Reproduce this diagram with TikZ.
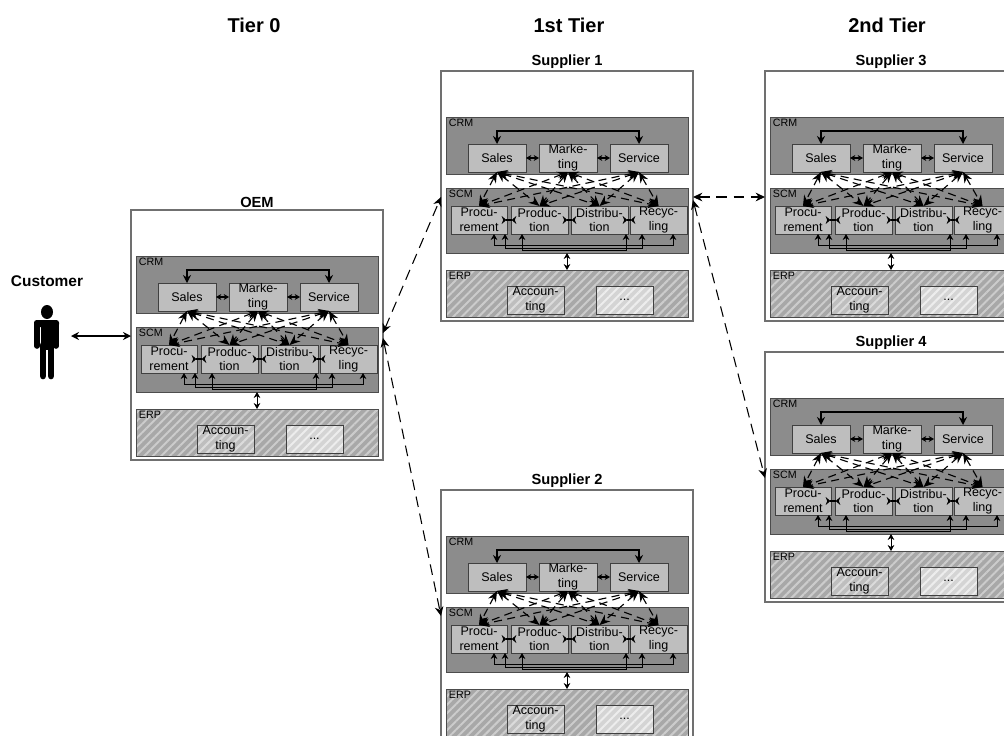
\documentclass[tikz,border=0pt]{standalone}
\usepackage{fontspec}
\setmainfont{Liberation Sans}
\usetikzlibrary{positioning,arrows.meta,calc,patterns.meta}
\definecolor{bandgray}{HTML}{8C8C8C}
\definecolor{boxgray}{HTML}{BEBEBE}
\definecolor{erpgray}{HTML}{A8A8A8}
\definecolor{edgegray}{HTML}{707070}

\newcommand{\firmblock}[4]{%
  \begin{scope}[shift={(#2,#3)}]
    \node[firm] (#1) at (0,0) {};
    \node[title, above=0.8pt of #1] (#1name) {#4};
    % ---- CRM ----
    \node[band, minimum height=42.75pt] (#1crm) at (5,46) {};
    \node[bandlbl] (#1crmlbl) at (#1crm.north west) {CRM};
    \node[unit, minimum width=43.5pt] (#1sales) at (27,73) {Sales};
    \node[unit, minimum width=43.5pt, right=9.75pt of #1sales] (#1marketing) {Marke-\\ting};
    \node[unit, minimum width=43.5pt, right=9.75pt of #1marketing] (#1service) {Service};
    \draw[arr] (#1sales.north) -- ++(0,-13) -| (#1service.north);
    \draw[tiny] (#1sales) -- (#1marketing);
    \draw[tiny] (#1marketing) -- (#1service);
    % ---- SCM ----
    \node[band, minimum height=48.75pt] (#1scm) at (5,117) {};
    \node[bandlbl] (#1scmlbl) at (#1scm.north west) {SCM};
    \node[unit, minimum width=42pt] (#1procure) at (10,135) {Procu-\\rement};
    \node[unit, right=3pt of #1procure] (#1production) {Produc-\\tion};
    \node[unit, right=2.25pt of #1production] (#1distribution) {Distribu-\\tion};
    \node[unit, right=1.5pt of #1distribution] (#1recycling) {Recyc-\\ling};
    \draw[bow] (#1procure) -- (#1production);
    \draw[bow] (#1production) -- (#1distribution);
    \draw[bow] (#1distribution) -- (#1recycling);
    \draw[link] ($(#1procure.south)+(15,0)$) -- ++(0,11) -| ($(#1recycling.south)+(14.5,0)$);
    \draw[link] ($(#1procure.south)+(26,0)$) -- ++(0,14) -| ($(#1recycling.south)+(-16.5,0)$);
    \draw[link] ($(#1production.south)+(-17.5,0)$) -- ++(0,16) -| ($(#1distribution.south)+(26.5,0)$);
    % ---- ERP ----
    \node[erpband] (#1erp) at (5,199) {};
    \node[bandlbl] (#1erplbl) at (#1erp.north west) {ERP};
    \node[unit, hatched] (#1account) at (66,215) {Accoun-\\ting};
    \node[unit, hatchedpale, right=24pt of #1account] (#1other) {...};
    \draw[link] (#1scm.south) -- (#1erp.north);
    % ---- mesh between CRM and SCM ----
    \foreach \upper in {sales,marketing,service}
      \foreach \lower in {procure,production,distribution,recycling}
        \draw[mesh] (#1\upper.south) -- (#1\lower.north);
    % ---- ports on the frame ----
    \coordinate (#1west) at (0,126);
    \coordinate (#1east) at (252,126);
  \end{scope}%
}

\begin{document}
\begin{tikzpicture}[
  x=0.75pt, y=-0.75pt,
  font=\fontsize{9.4}{10.9}\selectfont,
  firm/.style={draw=edgegray, fill=white, line width=0.8pt, anchor=north west,
               minimum width=189pt, minimum height=187.5pt, inner sep=0pt, outer sep=0pt},
  title/.style={font=\fontsize{11}{13}\selectfont\bfseries, inner sep=1pt},
  tier/.style={font=\fontsize{15}{18}\selectfont\bfseries, inner sep=0pt},
  band/.style={draw=black!70, fill=bandgray, line width=0.7pt, anchor=north west,
               minimum width=181.5pt, inner sep=0pt, outer sep=0pt},
  erpband/.style={band, minimum height=35.25pt, preaction={fill=erpgray},
                  pattern={Lines[angle=45, distance=4.5pt, line width=1.5pt]},
                  pattern color=black!20},
  bandlbl/.style={font=\fontsize{8}{9}\selectfont, anchor=north west,
                  inner xsep=2pt, inner ysep=1.5pt},
  unit/.style={draw=black!75, fill=boxgray, line width=0.7pt, anchor=north west,
               minimum width=42.75pt, minimum height=21pt, inner sep=0pt, outer sep=0pt,
               align=center},
  hatched/.style={preaction={fill=boxgray},
                  pattern={Lines[angle=45, distance=4.5pt, line width=1.5pt]},
                  pattern color=black!14},
  hatchedpale/.style={preaction={fill=black!17},
                  pattern={Lines[angle=45, distance=4.5pt, line width=1.5pt]},
                  pattern color=black!7},
  arr/.style={{Stealth[length=6pt,width=6pt]}-{Stealth[length=6pt,width=6pt]}, line width=0.85pt},
  tiny/.style={{Stealth[length=4pt,width=4.5pt]}-{Stealth[length=4pt,width=4.5pt]}, line width=0.8pt},
  bow/.style={{Stealth[length=3.5pt,width=6pt,reversed]}-{Stealth[length=3.5pt,width=6pt,reversed]},
              line width=0.8pt, shorten <=-4pt, shorten >=-4pt},
  link/.style={{Stealth[length=4.5pt,width=5pt]}-{Stealth[length=4.5pt,width=5pt]}, line width=0.55pt},
  mesh/.style={{Stealth[length=8pt,width=6.5pt]}-{Stealth[length=8pt,width=6.5pt]},
               dash pattern=on 6pt off 4pt, line width=0.85pt},
  far/.style={{Stealth[length=7pt,width=6.5pt]}-{Stealth[length=7pt,width=6.5pt]},
              dash pattern=on 8pt off 5pt, line width=0.8pt},
]
\useasboundingbox (0,0) rectangle (1004,736);
\clip (0,0) rectangle (1004,736);

% ---- tier headings ----
\node[tier] (tier0) at (254,25) {Tier 0};
\node[tier] (tier1) at (569,25) {1st Tier};
\node[tier] (tier2) at (887,25) {2nd Tier};

% ---- customer ----
\node[title, font=\fontsize{11.6}{13}\selectfont\bfseries] (customer) at (47,281) {Customer};
\fill (47,312) ellipse (6 and 7);
\fill[rounded corners=2pt] (34,320) rectangle (59,327);
\fill (41,322) rectangle (53,350);
\draw[line width=4.2pt, line cap=round] (37,324) -- (37,346);
\draw[line width=4.2pt, line cap=round] (56,324) -- (56,346);
\draw[line width=5pt, line cap=round] (43,345) -- (43,376);
\draw[line width=5pt, line cap=round] (51,345) -- (51,376);
\coordinate (person) at (71,336);

% ---- companies ----
\firmblock{oem}{131}{210}{OEM}
\firmblock{supa}{441}{71}{Supplier 1}
\firmblock{supb}{441}{490}{Supplier 2}
\firmblock{supc}{765}{71}{Supplier 3}
\firmblock{supd}{765}{352}{Supplier 4}

% ---- links between companies ----
\coordinate (oemup) at ($(oemeast)+(0,-3)$);
\coordinate (oemdown) at ($(oemeast)+(0,2)$);
\coordinate (supaup) at ($(supaeast)+(0,0)$);
\coordinate (supadown) at ($(supaeast)+(0,3)$);
\draw[arr, line width=0.9pt] (person) -- (oemwest);
\draw[far] (oemup) -- (supawest);
\draw[far] (oemdown) -- (supbwest);
\draw[far] (supaup) -- (supcwest);
\draw[far] (supadown) -- (supdwest);
\end{tikzpicture}
\end{document}
